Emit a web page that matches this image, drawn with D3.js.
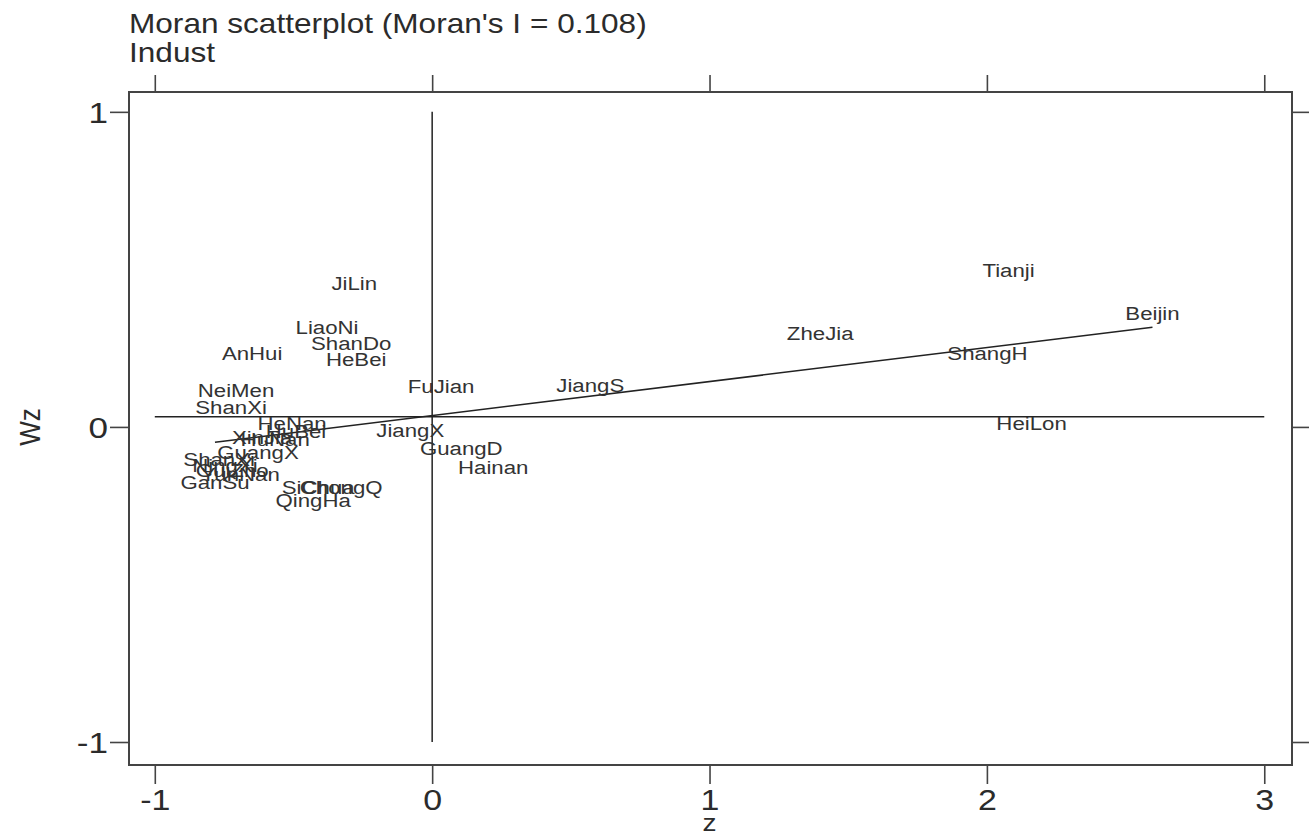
<!DOCTYPE html>
<html>
<head>
<meta charset="utf-8">
<script src="https://cdn.jsdelivr.net/npm/d3@7"></script>
<style>
  body { margin: 0; background: #fff; }
  text { font-family: "Liberation Sans", Arial, sans-serif; fill: #2b2b2b; }
</style>
</head>
<body>
<div class="chart"></div>
<script>
// Moran scatterplot data
var regions = ["Tianji", "Beijin", "ShangH", "HeiLon", "ZheJia", "JiangS", "FuJian", "JiangX",
  "GuangD", "Hainan", "JiLin", "LiaoNi", "ShanDo", "HeBei", "AnHui", "NeiMen", "ShanXi",
  "HeNan", "HuBei", "XinJia", "HuNan", "GuangX", "ShanXi", "NingXi", "GuiZho", "YunNan",
  "GanSu", "SiChua", "ChongQ", "QingHa"];
var z_values = [2.078, 2.597, 2.002, 2.161, 1.399, 0.570, 0.032, -0.079,
  0.105, 0.220, -0.281, -0.379, -0.292, -0.274, -0.649, -0.707, -0.725,
  -0.505, -0.491, -0.613, -0.566, -0.628, -0.768, -0.747, -0.721, -0.692,
  -0.783, -0.411, -0.328, -0.429];
var wz_values = [0.498, 0.362, 0.235, 0.013, 0.298, 0.133, 0.130, -0.010,
  -0.067, -0.127, 0.457, 0.317, 0.267, 0.216, 0.235, 0.117, 0.063,
  0.013, -0.013, -0.032, -0.038, -0.079, -0.102, -0.121, -0.137, -0.149,
  -0.175, -0.190, -0.190, -0.232];
var morans_i = 0.108;      // slope of the fitted line
var fit_intercept = 0.036;
var mean_wz = 0.032;
var x_ticks = [-1, 0, 1, 2, 3];
var y_ticks = [-1, 0, 1];
var title_lines = ["Moran scatterplot (Moran's I = 0.108)", "Indust"];

var width = 1309, height = 837;
var box = { left: 129, right: 1292, top: 92, bottom: 765 };
var stretch = 1.17;   // the original is a little wider than it is tall

var figure_data = regions.map((d, i) => ({ name: d, z: z_values[i], wz: wz_values[i] }));

var svg = d3.select(".chart").append("svg")
  .attr("width", width)
  .attr("height", height);

var x_scale = d3.scaleLinear()
  .domain([-1.093, 3.10])
  .range([box.left, box.right]);
var y_scale = d3.scaleLinear()
  .domain([-1.073, 1.063])
  .range([box.bottom, box.top]);

// titles
svg.selectAll(".title")
  .data(title_lines)
  .enter()
  .append("text")
    .attr("class", "title")
    .attr("transform", (d, i) => "translate(" + box.left + "," + (33 + i * 29) + ") scale(" + stretch + ",1)")
    .style("font-size", "27px")
    .text(d => d);

// axes
var style_axis = function (g) {
  g.select(".domain").remove();
  g.selectAll(".tick line").attr("stroke", "#444").attr("stroke-width", 1.6);
};
var plain = d => String(d);   // plain hyphen, not the unicode minus

svg.append("g")
  .attr("transform", "translate(0," + box.bottom + ")")
  .call(d3.axisBottom(x_scale).tickValues(x_ticks).tickSize(19).tickFormat(plain))
  .call(style_axis)
  .call(g => g.selectAll(".tick text")
    .attr("y", 0).attr("dy", null)
    .attr("transform", "translate(0,45) scale(" + stretch + ",1)")
    .style("font-size", "29px")
    .style("fill", "#2b2b2b")
    .attr("font-family", null));

svg.append("g")
  .attr("transform", "translate(0," + box.top + ")")
  .call(d3.axisTop(x_scale).tickValues(x_ticks).tickSize(17).tickFormat(""))
  .call(style_axis);

svg.append("g")
  .attr("transform", "translate(" + box.left + ",0)")
  .call(d3.axisLeft(y_scale).tickValues(y_ticks).tickSize(19).tickFormat(plain))
  .call(style_axis)
  .call(g => g.selectAll(".tick text")
    .attr("x", 0).attr("dy", null)
    .attr("dominant-baseline", "central")
    .attr("transform", "translate(-21,0) scale(" + stretch + ",1)")
    .style("font-size", "30px")
    .style("fill", "#2b2b2b")
    .attr("font-family", null));

svg.append("g")
  .attr("transform", "translate(" + box.right + ",0)")
  .call(d3.axisRight(y_scale).tickValues(y_ticks).tickSize(17).tickFormat(""))
  .call(style_axis);

// plot frame
svg.append("rect")
  .attr("x", box.left)
  .attr("y", box.top)
  .attr("width", box.right - box.left)
  .attr("height", box.bottom - box.top)
  .attr("fill", "none")
  .attr("stroke", "#444")
  .attr("stroke-width", 2);

// axis titles
svg.append("text")
  .attr("transform", "translate(" + x_scale(1) + ",831) scale(" + stretch + ",1)")
  .attr("text-anchor", "middle")
  .style("font-size", "24px")
  .text("z");

svg.append("text")
  .attr("transform", "translate(40," + y_scale(0) + ") scale(" + stretch + ",1) rotate(-90)")
  .attr("text-anchor", "middle")
  .style("font-size", "26px")
  .text("Wz");

// reference lines at the means
svg.append("line")
  .attr("x1", x_scale(x_ticks[0]))
  .attr("x2", x_scale(x_ticks[x_ticks.length - 1]))
  .attr("y1", y_scale(mean_wz))
  .attr("y2", y_scale(mean_wz))
  .attr("stroke", "#222")
  .attr("stroke-width", 1.5);

svg.append("line")
  .attr("x1", x_scale(0))
  .attr("x2", x_scale(0))
  .attr("y1", y_scale(y_ticks[0]))
  .attr("y2", y_scale(y_ticks[y_ticks.length - 1]))
  .attr("stroke", "#222")
  .attr("stroke-width", 1.5);

// fitted line over the range of z
var z_range = d3.extent(z_values);
svg.append("line")
  .attr("x1", x_scale(z_range[0]))
  .attr("x2", x_scale(z_range[1]))
  .attr("y1", y_scale(fit_intercept + morans_i * z_range[0]))
  .attr("y2", y_scale(fit_intercept + morans_i * z_range[1]))
  .attr("stroke", "#222")
  .attr("stroke-width", 1.5);

// region labels sit on the points
svg.selectAll(".region")
  .data(figure_data)
  .enter()
  .append("text")
    .attr("class", "region")
    .attr("transform", d => "translate(" + x_scale(d.z) + "," + y_scale(d.wz) + ") scale(" + stretch + ",1)")
    .attr("text-anchor", "middle")
    .attr("dominant-baseline", "central")
    .style("font-size", "19px")
    .style("fill", "#333")
    .text(d => d.name);
</script>
</body>
</html>
